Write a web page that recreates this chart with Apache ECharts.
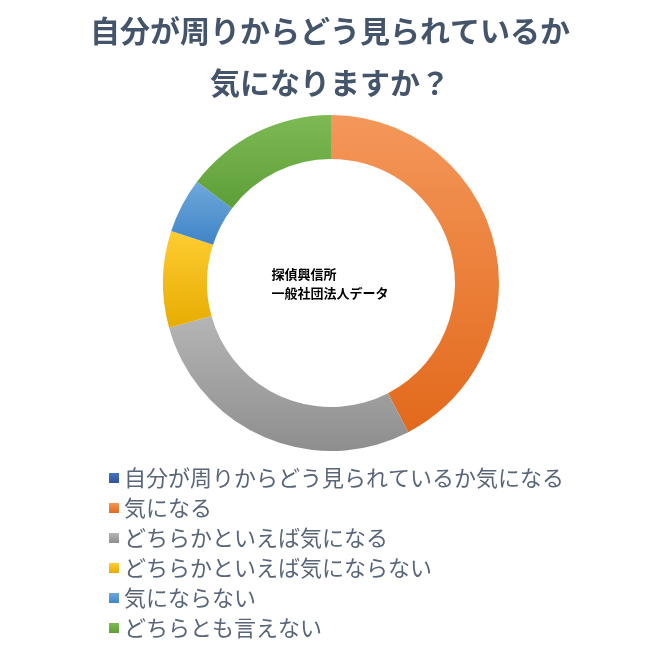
<!DOCTYPE html>
<html><head><meta charset="utf-8">
<script src="https://cdn.jsdelivr.net/npm/echarts@6/dist/echarts.min.js"></script>
<style>html,body{margin:0;padding:0;background:#fff}#c{width:660px;height:660px}</style>
</head><body><div id="c"></div>
<script>
const categories = ['自分が周りからどう見られているか気になる','気になる','どちらかといえば気になる','どちらかといえば気にならない','気にならない','どちらとも言えない'];
const values = [0, 42.4, 28.3, 9.3, 5.3, 14.7];
const colorsTop = ['#4472C4','#F4975A','#B5B5B5','#FFCD33','#6FA8DC','#7DBA55'];
const colorsBot = ['#2F5597','#E2691B','#8E8E8E','#E6AC00','#3F84C6','#5E9E37'];
const chart = echarts.init(document.getElementById('c'));
chart.setOption({
  animation:false,
  title:{text:'自分が周りからどう見られているか\n気になりますか？',left:'center',top:0,
    textStyle:{fontSize:30,fontWeight:'bold',color:'#44546A',lineHeight:52,fontFamily:'Noto Sans CJK JP'}},
  legend:{orient:'vertical',left:104,top:462,itemWidth:10,itemHeight:10,itemGap:8,icon:'rect',
    textStyle:{fontSize:22,color:'#596579',fontFamily:'Noto Sans CJK JP'},data:categories},
  graphic:[{type:'text',left:'center',top:265,style:{text:'探偵興信所\n一般社団法人データ',align:'center',
    font:'bold 13px "Noto Sans CJK JP"',lineHeight:19,fill:'#000'}}],
  series:[{type:'pie',center:[331,283],radius:[124,168],startAngle:90,clockwise:true,
    label:{show:false},labelLine:{show:false},silent:true,
    data:categories.map((n,i)=>({name:n,value:values[i],
      itemStyle:{color:{type:'linear',x:0,y:0,x2:0,y2:1,colorStops:[{offset:0,color:colorsTop[i]},{offset:1,color:colorsBot[i]}]}}}))}]
});
</script></body></html>
